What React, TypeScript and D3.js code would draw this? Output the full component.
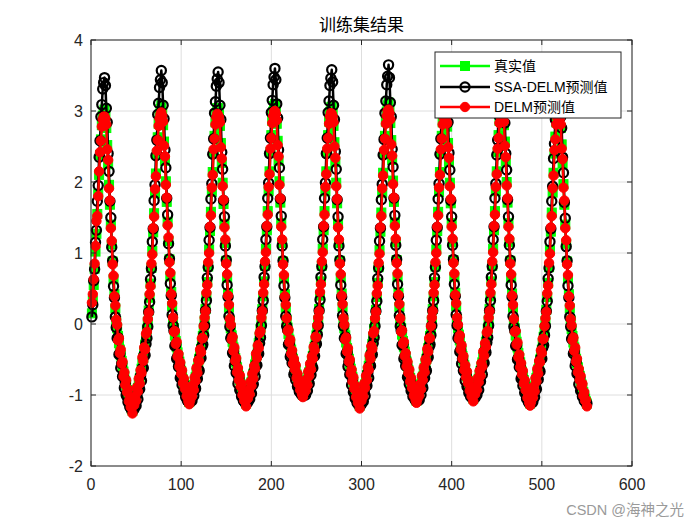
import React, { useRef, useEffect } from "react";
import * as d3 from "d3";

const titleText = "训练集结果";
const seriesNames = ["真实值", "SSA-DELM预测值", "DELM预测值"];
const xTicks = [0, 100, 200, 300, 400, 500, 600];
const yTicks = [-2, -1, 0, 1, 2, 3, 4];
const watermark = "CSDN @海神之光";

// 真实值 (sample 1..550)
const trueValues = [
  0.15, 0.33, 0.55, 0.78, 1.02, 1.27, 1.55, 1.83, 2.1, 2.38, 2.6, 2.8, 2.93, 2.99,
  3.02, 2.93, 2.76, 2.52, 2.25, 1.96, 1.68, 1.4, 1.12, 0.88, 0.63, 0.42, 0.22, 0.04,
  -0.06, -0.17, -0.27, -0.36, -0.44, -0.52, -0.59, -0.67, -0.73, -0.8, -0.86, -0.93, -0.98, -1.04, -1.09, -1.14, -1.19, -1.22,
  -1.18, -1.12, -1.07, -1.02, -0.96, -0.9, -0.83, -0.77, -0.7, -0.63, -0.55, -0.48, -0.39, -0.29, -0.19, -0.08,
  0.03, 0.19, 0.37, 0.57, 0.79, 1.03, 1.29, 1.56, 1.84, 2.12, 2.39, 2.63, 2.82, 2.95, 3.03,
  3.08, 2.97, 2.8, 2.57, 2.3, 2.01, 1.72, 1.44, 1.17, 0.91, 0.67, 0.45, 0.25, 0.07,
  -0.06, -0.16, -0.24, -0.32, -0.4, -0.47, -0.53, -0.6, -0.66, -0.72, -0.78, -0.83, -0.88, -0.93, -0.98, -1.03, -1.07, -1.1,
  -1.06, -1.01, -0.96, -0.91, -0.86, -0.81, -0.75, -0.69, -0.63, -0.56, -0.49, -0.43, -0.35, -0.26, -0.17, -0.07,
  0.05, 0.21, 0.39, 0.59, 0.81, 1.05, 1.31, 1.58, 1.86, 2.14, 2.41, 2.65, 2.84, 2.97, 3.04,
  3.04, 2.95, 2.79, 2.55, 2.27, 1.99, 1.69, 1.41, 1.14, 0.89, 0.65, 0.43, 0.23, 0.05,
  -0.06, -0.16, -0.25, -0.33, -0.41, -0.48, -0.54, -0.61, -0.67, -0.73, -0.79, -0.85, -0.9, -0.95, -1.0, -1.05, -1.09, -1.12,
  -1.08, -1.03, -0.98, -0.93, -0.88, -0.82, -0.76, -0.7, -0.64, -0.57, -0.5, -0.44, -0.36, -0.27, -0.18, -0.07,
  0.05, 0.21, 0.39, 0.6, 0.82, 1.06, 1.32, 1.59, 1.87, 2.15, 2.42, 2.66, 2.86, 2.99, 3.07,
  3.1, 3.0, 2.82, 2.58, 2.3, 2.01, 1.71, 1.42, 1.14, 0.88, 0.64, 0.42, 0.23, 0.06,
  -0.05, -0.14, -0.22, -0.29, -0.36, -0.42, -0.49, -0.55, -0.6, -0.65, -0.71, -0.76, -0.81, -0.85, -0.89, -0.94, -0.97, -1.0,
  -0.96, -0.92, -0.88, -0.83, -0.79, -0.73, -0.68, -0.63, -0.58, -0.51, -0.45, -0.39, -0.32, -0.24, -0.16, -0.06,
  0.05, 0.21, 0.4, 0.6, 0.82, 1.06, 1.32, 1.59, 1.87, 2.15, 2.42, 2.66, 2.85, 2.98, 3.05,
  3.06, 2.96, 2.79, 2.56, 2.28, 1.99, 1.7, 1.41, 1.14, 0.89, 0.65, 0.43, 0.24, 0.06,
  -0.06, -0.16, -0.26, -0.34, -0.42, -0.49, -0.56, -0.63, -0.69, -0.75, -0.82, -0.88, -0.93, -0.98, -1.03, -1.08, -1.12, -1.15,
  -1.11, -1.06, -1.01, -0.96, -0.91, -0.85, -0.79, -0.72, -0.66, -0.59, -0.52, -0.45, -0.37, -0.28, -0.18, -0.07,
  0.04, 0.2, 0.38, 0.58, 0.8, 1.04, 1.3, 1.57, 1.85, 2.13, 2.4, 2.65, 2.85, 2.99, 3.08,
  3.12, 3.01, 2.83, 2.59, 2.31, 2.02, 1.72, 1.43, 1.15, 0.9, 0.66, 0.44, 0.24, 0.06,
  -0.06, -0.15, -0.24, -0.32, -0.39, -0.46, -0.53, -0.59, -0.65, -0.71, -0.76, -0.82, -0.87, -0.92, -0.97, -1.01, -1.05, -1.08,
  -1.04, -0.99, -0.95, -0.9, -0.85, -0.79, -0.74, -0.68, -0.62, -0.55, -0.49, -0.42, -0.34, -0.26, -0.17, -0.07,
  0.05, 0.21, 0.39, 0.59, 0.81, 1.05, 1.31, 1.58, 1.86, 2.14, 2.41, 2.65, 2.84, 2.97, 3.03,
  3.05, 2.95, 2.78, 2.55, 2.28, 1.99, 1.7, 1.42, 1.15, 0.9, 0.66, 0.44, 0.25, 0.07,
  -0.06, -0.15, -0.23, -0.31, -0.38, -0.45, -0.51, -0.58, -0.63, -0.69, -0.74, -0.8, -0.85, -0.89, -0.94, -0.99, -1.02, -1.05,
  -1.01, -0.97, -0.92, -0.87, -0.83, -0.77, -0.72, -0.66, -0.6, -0.54, -0.47, -0.41, -0.33, -0.25, -0.17, -0.07,
  0.05, 0.21, 0.39, 0.6, 0.82, 1.06, 1.32, 1.59, 1.87, 2.15, 2.42, 2.66, 2.86, 2.99, 3.06,
  3.08, 2.98, 2.8, 2.57, 2.29, 2.0, 1.71, 1.42, 1.15, 0.89, 0.65, 0.43, 0.23, 0.05,
  -0.06, -0.16, -0.25, -0.33, -0.41, -0.48, -0.54, -0.61, -0.67, -0.73, -0.79, -0.85, -0.9, -0.95, -1.0, -1.05, -1.09, -1.12,
  -1.08, -1.03, -0.98, -0.93, -0.88, -0.82, -0.76, -0.7, -0.64, -0.57, -0.5, -0.44, -0.36, -0.27, -0.18, -0.07,
  0.04, 0.2, 0.38, 0.58, 0.8, 1.04, 1.3, 1.57, 1.85, 2.13, 2.4, 2.64, 2.84, 2.97, 3.02,
  3.02, 2.93, 2.76, 2.53, 2.26, 1.97, 1.68, 1.4, 1.13, 0.88, 0.64, 0.42, 0.22, 0.05,
  -0.07, -0.17, -0.26, -0.33, -0.41, -0.49, -0.55, -0.61, -0.68, -0.73, -0.8, -0.85, -0.9, -0.96, -1.0, -1.05, -1.09, -1.12,
];

// SSA-DELM预测值
const ssaDelmValues = [
  0.1, 0.27, 0.61, 0.77, 1.15, 1.32, 1.73, 1.95, 2.35, 2.58, 2.92, 3.09, 3.31, 3.4,
  3.47, 3.36, 3.04, 2.84, 2.4, 2.15, 1.73, 1.5, 1.08, 0.89, 0.53, 0.37, 0.1, -0.05,
  -0.2, -0.19, -0.43, -0.42, -0.62, -0.56, -0.74, -0.75, -0.9, -0.83, -1.0, -1.02, -1.1, -1.09, -1.17, -1.18, -1.21, -1.22,
  -1.21, -1.19, -1.12, -1.15, -1.0, -1.06, -0.89, -0.92, -0.73, -0.8, -0.62, -0.62, -0.43, -0.44, -0.28, -0.2,
  -0.04, 0.17, 0.31, 0.63, 0.78, 1.16, 1.34, 1.74, 1.96, 2.37, 2.59, 2.95, 3.11, 3.33, 3.44,
  3.57, 3.4, 3.08, 2.89, 2.45, 2.2, 1.77, 1.54, 1.13, 0.92, 0.57, 0.4, 0.13, -0.02,
  -0.09, -0.31, -0.29, -0.49, -0.47, -0.6, -0.57, -0.76, -0.74, -0.86, -0.81, -0.95, -0.94, -1.03, -1.02, -1.08, -1.09, -1.11,
  -1.08, -1.07, -1.08, -0.95, -1.01, -0.88, -0.91, -0.74, -0.77, -0.64, -0.66, -0.47, -0.48, -0.32, -0.29, -0.16,
  -0.02, 0.19, 0.33, 0.65, 0.8, 1.18, 1.36, 1.76, 1.98, 2.39, 2.61, 2.97, 3.13, 3.35, 3.45,
  3.55, 3.4, 3.08, 2.88, 2.42, 2.18, 1.74, 1.51, 1.1, 0.9, 0.55, 0.38, 0.11, -0.04,
  -0.2, -0.18, -0.41, -0.39, -0.59, -0.52, -0.69, -0.69, -0.84, -0.76, -0.93, -0.94, -1.02, -1.0, -1.08, -1.09, -1.11, -1.12,
  -1.11, -1.1, -1.03, -1.06, -0.92, -0.98, -0.82, -0.85, -0.67, -0.74, -0.57, -0.58, -0.4, -0.42, -0.27, -0.19,
  -0.02, 0.19, 0.33, 0.66, 0.81, 1.19, 1.37, 1.77, 1.99, 2.4, 2.62, 2.98, 3.15, 3.37, 3.48,
  3.6, 3.44, 3.1, 2.9, 2.45, 2.2, 1.76, 1.52, 1.1, 0.89, 0.54, 0.37, 0.11, -0.03,
  -0.08, -0.29, -0.27, -0.46, -0.43, -0.55, -0.53, -0.71, -0.68, -0.79, -0.74, -0.88, -0.87, -0.95, -0.93, -0.99, -0.99, -1.01,
  -0.98, -0.98, -1.0, -0.87, -0.94, -0.8, -0.84, -0.68, -0.72, -0.59, -0.62, -0.43, -0.45, -0.3, -0.28, -0.15,
  -0.02, 0.19, 0.34, 0.66, 0.81, 1.19, 1.37, 1.77, 1.99, 2.4, 2.62, 2.98, 3.14, 3.36, 3.46,
  3.58, 3.41, 3.08, 2.88, 2.43, 2.18, 1.75, 1.51, 1.1, 0.9, 0.55, 0.38, 0.12, -0.03,
  -0.2, -0.18, -0.42, -0.4, -0.6, -0.53, -0.71, -0.71, -0.86, -0.78, -0.96, -0.97, -1.05, -1.03, -1.11, -1.12, -1.14, -1.15,
  -1.14, -1.13, -1.06, -1.09, -0.95, -1.01, -0.85, -0.87, -0.69, -0.76, -0.59, -0.59, -0.41, -0.43, -0.27, -0.19,
  -0.03, 0.18, 0.32, 0.64, 0.79, 1.17, 1.35, 1.75, 1.97, 2.38, 2.6, 2.97, 3.14, 3.37, 3.49,
  3.65, 3.47, 3.12, 2.92, 2.46, 2.21, 1.77, 1.53, 1.11, 0.91, 0.56, 0.39, 0.12, -0.03,
  -0.09, -0.3, -0.29, -0.49, -0.46, -0.59, -0.57, -0.75, -0.73, -0.85, -0.79, -0.94, -0.93, -1.02, -1.01, -1.06, -1.07, -1.09,
  -1.06, -1.05, -1.07, -0.94, -1.0, -0.86, -0.9, -0.73, -0.76, -0.63, -0.66, -0.46, -0.47, -0.32, -0.29, -0.16,
  -0.02, 0.19, 0.33, 0.65, 0.8, 1.18, 1.36, 1.76, 1.98, 2.39, 2.61, 2.97, 3.13, 3.35, 3.44,
  3.43, 3.33, 3.02, 2.84, 2.41, 2.17, 1.74, 1.51, 1.11, 0.91, 0.56, 0.39, 0.13, -0.02,
  -0.2, -0.17, -0.39, -0.37, -0.56, -0.49, -0.66, -0.66, -0.8, -0.72, -0.88, -0.89, -0.97, -0.94, -1.02, -1.03, -1.04, -1.05,
  -1.04, -1.04, -0.97, -1.0, -0.87, -0.93, -0.78, -0.81, -0.63, -0.71, -0.54, -0.55, -0.37, -0.4, -0.26, -0.19,
  -0.02, 0.19, 0.33, 0.66, 0.81, 1.19, 1.37, 1.77, 1.98, 2.38, 2.59, 2.94, 3.1, 3.31, 3.39,
  3.4, 3.31, 3.0, 2.83, 2.4, 2.17, 1.75, 1.51, 1.11, 0.9, 0.55, 0.38, 0.11, -0.04,
  -0.09, -0.31, -0.3, -0.5, -0.48, -0.61, -0.58, -0.77, -0.75, -0.87, -0.82, -0.97, -0.96, -1.05, -1.04, -1.1, -1.11, -1.13,
  -1.1, -1.09, -1.1, -0.97, -1.03, -0.89, -0.92, -0.75, -0.78, -0.65, -0.67, -0.48, -0.49, -0.33, -0.3, -0.16,
  -0.03, 0.18, 0.32, 0.64, 0.79, 1.16, 1.34, 1.73, 1.94, 2.33, 2.54, 2.88, 3.03, 3.24, 3.3,
  3.3, 3.22, 2.92, 2.76, 2.35, 2.13, 1.71, 1.49, 1.09, 0.89, 0.54, 0.37, 0.1, -0.04,
  -0.21, -0.19, -0.42, -0.39, -0.59, -0.53, -0.7, -0.69, -0.85, -0.76, -0.94, -0.94, -1.02, -1.01, -1.08, -1.09, -1.11, -1.12,
];

// DELM预测值
const delmValues = [
  0.3, 0.42, 0.63, 0.85, 1.1, 1.45, 1.52, 1.8, 2.15, 2.42, 2.58, 2.78, 2.88, 2.92,
  2.92, 2.89, 2.81, 2.46, 2.31, 1.91, 1.74, 1.35, 1.17, 0.84, 0.68, 0.39, 0.26, 0.06,
  -0.01, -0.23, -0.2, -0.41, -0.36, -0.56, -0.53, -0.74, -0.68, -0.86, -0.79, -0.96, -0.92, -1.09, -1.05, -1.17, -1.17, -1.26,
  -1.15, -1.14, -1.02, -1.08, -0.89, -0.95, -0.77, -0.84, -0.65, -0.69, -0.47, -0.52, -0.33, -0.36, -0.14, -0.11,
  0.07, 0.16, 0.42, 0.53, 0.85, 0.98, 1.35, 1.51, 1.9, 2.08, 2.44, 2.59, 2.79, 2.89, 2.95,
  2.98, 2.93, 2.85, 2.51, 2.36, 1.96, 1.78, 1.39, 1.22, 0.87, 0.72, 0.42, 0.29, 0.09,
  -0.11, -0.1, -0.28, -0.25, -0.46, -0.42, -0.6, -0.54, -0.7, -0.65, -0.83, -0.77, -0.91, -0.88, -1.02, -0.99, -1.09, -1.13,
  -1.08, -0.97, -1.02, -0.86, -0.93, -0.75, -0.8, -0.62, -0.69, -0.51, -0.53, -0.36, -0.4, -0.2, -0.2, -0.03,
  0.09, 0.18, 0.44, 0.55, 0.87, 1.0, 1.37, 1.53, 1.92, 2.1, 2.46, 2.61, 2.81, 2.91, 2.96,
  2.94, 2.91, 2.84, 2.49, 2.33, 1.94, 1.75, 1.36, 1.19, 0.85, 0.7, 0.4, 0.27, 0.07,
  -0.01, -0.22, -0.18, -0.38, -0.33, -0.52, -0.48, -0.68, -0.62, -0.79, -0.72, -0.88, -0.84, -1.0, -0.96, -1.08, -1.07, -1.16,
  -1.05, -1.05, -0.93, -0.99, -0.81, -0.87, -0.7, -0.77, -0.59, -0.63, -0.42, -0.48, -0.3, -0.34, -0.13, -0.1,
  0.09, 0.18, 0.44, 0.56, 0.88, 1.01, 1.38, 1.54, 1.93, 2.11, 2.47, 2.62, 2.83, 2.93, 2.99,
  3.0, 2.96, 2.87, 2.52, 2.36, 1.96, 1.77, 1.37, 1.19, 0.84, 0.69, 0.39, 0.27, 0.08,
  -0.1, -0.08, -0.26, -0.22, -0.42, -0.37, -0.56, -0.49, -0.64, -0.58, -0.76, -0.7, -0.84, -0.8, -0.93, -0.9, -0.99, -1.03,
  -0.98, -0.88, -0.94, -0.78, -0.86, -0.67, -0.73, -0.56, -0.64, -0.46, -0.49, -0.32, -0.37, -0.18, -0.19, -0.02,
  0.09, 0.18, 0.45, 0.56, 0.88, 1.01, 1.38, 1.54, 1.93, 2.11, 2.47, 2.62, 2.82, 2.92, 2.97,
  2.96, 2.92, 2.84, 2.5, 2.34, 1.94, 1.76, 1.36, 1.19, 0.85, 0.7, 0.4, 0.28, 0.08,
  -0.01, -0.22, -0.19, -0.39, -0.34, -0.53, -0.5, -0.7, -0.64, -0.81, -0.75, -0.91, -0.87, -1.03, -0.99, -1.11, -1.1, -1.19,
  -1.08, -1.08, -0.96, -1.02, -0.84, -0.9, -0.73, -0.79, -0.61, -0.65, -0.44, -0.49, -0.31, -0.35, -0.13, -0.1,
  0.08, 0.17, 0.43, 0.54, 0.86, 0.99, 1.36, 1.52, 1.91, 2.09, 2.45, 2.61, 2.82, 2.93, 3.0,
  3.02, 2.97, 2.88, 2.53, 2.37, 1.97, 1.78, 1.38, 1.2, 0.86, 0.71, 0.41, 0.28, 0.08,
  -0.11, -0.09, -0.28, -0.25, -0.45, -0.41, -0.6, -0.53, -0.69, -0.64, -0.81, -0.76, -0.9, -0.87, -1.01, -0.97, -1.07, -1.11,
  -1.06, -0.95, -1.01, -0.85, -0.92, -0.73, -0.79, -0.61, -0.68, -0.5, -0.53, -0.35, -0.39, -0.2, -0.2, -0.03,
  0.09, 0.18, 0.44, 0.55, 0.87, 1.0, 1.37, 1.53, 1.92, 2.1, 2.46, 2.61, 2.81, 2.91, 2.95,
  2.95, 2.91, 2.83, 2.49, 2.34, 1.94, 1.76, 1.37, 1.2, 0.86, 0.71, 0.41, 0.29, 0.09,
  -0.01, -0.21, -0.16, -0.36, -0.3, -0.49, -0.45, -0.65, -0.58, -0.75, -0.67, -0.83, -0.79, -0.94, -0.9, -1.02, -1.0, -1.09,
  -0.98, -0.99, -0.87, -0.93, -0.76, -0.82, -0.66, -0.73, -0.55, -0.6, -0.39, -0.45, -0.27, -0.32, -0.12, -0.1,
  0.09, 0.18, 0.44, 0.56, 0.88, 1.01, 1.38, 1.54, 1.93, 2.11, 2.47, 2.62, 2.83, 2.93, 2.98,
  2.98, 2.94, 2.85, 2.51, 2.35, 1.95, 1.77, 1.37, 1.2, 0.85, 0.7, 0.4, 0.27, 0.07,
  -0.11, -0.1, -0.29, -0.26, -0.47, -0.43, -0.61, -0.55, -0.71, -0.66, -0.84, -0.79, -0.93, -0.9, -1.04, -1.01, -1.11, -1.15,
  -1.1, -0.99, -1.04, -0.88, -0.95, -0.76, -0.81, -0.63, -0.7, -0.52, -0.54, -0.37, -0.41, -0.21, -0.21, -0.03,
  0.08, 0.17, 0.43, 0.54, 0.86, 0.99, 1.36, 1.52, 1.91, 2.09, 2.45, 2.6, 2.81, 2.91, 2.94,
  2.92, 2.89, 2.81, 2.47, 2.32, 1.92, 1.74, 1.35, 1.18, 0.84, 0.69, 0.39, 0.26, 0.07,
  -0.02, -0.23, -0.19, -0.38, -0.33, -0.53, -0.49, -0.68, -0.63, -0.79, -0.73, -0.88, -0.84, -1.01, -0.96, -1.08, -1.07, -1.16,
];

const GREEN = "#00ff00";
const BLACK = "#000000";
const RED = "#ff0000";
const AXIS = "#262626";
const FONT = "'Liberation Sans', Arial, 'Noto Sans CJK SC', sans-serif";

export default function App() {
  const ref = useRef<SVGSVGElement>(null);

  useEffect(() => {
    document.body.style.margin = "0";
    const svg = d3.select(ref.current);
    svg.selectAll("*").remove();

    const left = 91, right = 632, top = 40, bottom = 466;
    const x = d3.scaleLinear().domain([0, 600]).range([left, right]);
    const y = d3.scaleLinear().domain([-2, 4]).range([bottom, top]);

    svg.append("rect").attr("width", 700).attr("height", 525).attr("fill", "#ffffff");

    // grid
    const grid = svg.append("g");
    xTicks.forEach((t) => {
      grid.append("line").attr("x1", x(t)).attr("x2", x(t)).attr("y1", top).attr("y2", bottom)
        .attr("stroke", "#dedede").attr("stroke-width", 1);
    });
    yTicks.forEach((t) => {
      grid.append("line").attr("x1", left).attr("x2", right).attr("y1", y(t)).attr("y2", y(t))
        .attr("stroke", "#dedede").attr("stroke-width", 1);
    });

    const plot = svg.append("g");

    const series = [
      { name: seriesNames[0], values: trueValues, color: GREEN, marker: "square" },
      { name: seriesNames[1], values: ssaDelmValues, color: BLACK, marker: "open" },
      { name: seriesNames[2], values: delmValues, color: RED, marker: "filled" },
    ];

    const line = d3.line<number>().x((_, i) => x(i + 1)).y((d) => y(d));

    const drawMarker = (g: any, cx: number, cy: number, kind: string, color: string) => {
      if (kind === "square") {
        g.append("rect").attr("x", cx - 4.5).attr("y", cy - 4.5).attr("width", 9).attr("height", 9)
          .attr("fill", color).attr("stroke", color).attr("stroke-width", 1);
      } else if (kind === "open") {
        g.append("circle").attr("cx", cx).attr("cy", cy).attr("r", 4.6)
          .attr("fill", "none").attr("stroke", color).attr("stroke-width", 2.2);
      } else {
        g.append("circle").attr("cx", cx).attr("cy", cy).attr("r", 4.7)
          .attr("fill", color).attr("stroke", color).attr("stroke-width", 1);
      }
    };

    series.forEach((s) => {
      const g = plot.append("g");
      g.append("path").datum(s.values).attr("d", line).attr("fill", "none")
        .attr("stroke", s.color).attr("stroke-width", 2.5).attr("stroke-linejoin", "round");
      s.values.forEach((v, i) => drawMarker(g, x(i + 1), y(v), s.marker, s.color));
    });

    // axes box
    svg.append("rect").attr("x", left).attr("y", top).attr("width", right - left).attr("height", bottom - top)
      .attr("fill", "none").attr("stroke", AXIS).attr("stroke-width", 1);

    const tl = 5;
    xTicks.forEach((t) => {
      svg.append("line").attr("x1", x(t)).attr("x2", x(t)).attr("y1", bottom).attr("y2", bottom - tl).attr("stroke", AXIS);
      svg.append("line").attr("x1", x(t)).attr("x2", x(t)).attr("y1", top).attr("y2", top + tl).attr("stroke", AXIS);
      svg.append("text").attr("x", x(t)).attr("y", 490).attr("text-anchor", "middle")
        .attr("font-family", FONT).attr("font-size", 16).attr("fill", AXIS).text(String(t));
    });
    yTicks.forEach((t) => {
      svg.append("line").attr("x1", left).attr("x2", left + tl).attr("y1", y(t)).attr("y2", y(t)).attr("stroke", AXIS);
      svg.append("line").attr("x1", right).attr("x2", right - tl).attr("y1", y(t)).attr("y2", y(t)).attr("stroke", AXIS);
      svg.append("text").attr("x", left - 8).attr("y", y(t) + 6).attr("text-anchor", "end")
        .attr("font-family", FONT).attr("font-size", 16).attr("fill", AXIS).text(String(t));
    });

    // title
    svg.append("text").attr("x", (left + right) / 2).attr("y", 31).attr("text-anchor", "middle")
      .attr("font-family", FONT).attr("font-size", 17).attr("fill", "#000").text(titleText);

    // legend
    const lg = svg.append("g");
    lg.append("rect").attr("x", 435).attr("y", 52).attr("width", 186).attr("height", 66)
      .attr("fill", "#ffffff").attr("stroke", AXIS).attr("stroke-width", 1);
    const rowsY = [66, 87, 107];
    series.forEach((s, i) => {
      const ry = rowsY[i];
      lg.append("line").attr("x1", 440).attr("x2", 490).attr("y1", ry).attr("y2", ry)
        .attr("stroke", s.color).attr("stroke-width", 2.5);
      drawMarker(lg, 465, ry, s.marker, s.color);
      lg.append("text").attr("x", 494).attr("y", ry + 5).attr("font-family", FONT)
        .attr("font-size", 14).attr("fill", "#000").text(s.name);
    });

    // watermark
    svg.append("text").attr("x", 684).attr("y", 515).attr("text-anchor", "end")
      .attr("font-family", FONT).attr("font-size", 14.5).attr("fill", "#9a9a9a").text(watermark);
  }, []);

  return (
    <div style={{ position: "absolute", left: 0, top: 0 }}>
      <svg ref={ref} width={700} height={525} style={{ display: "block" }} />
    </div>
  );
}
